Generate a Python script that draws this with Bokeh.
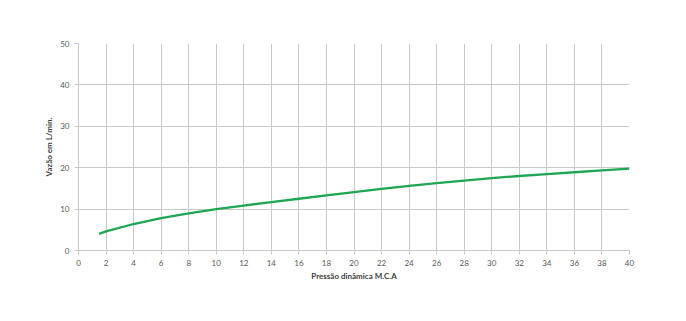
from bokeh.plotting import figure
from bokeh.models import Range1d, FixedTicker
from bokeh.embed import file_html
from bokeh.resources import INLINE

pressure = [1.5, 2, 4, 6, 8, 10, 12, 14, 16, 18, 20, 22, 24, 26, 28, 30, 32, 34, 36, 38, 40]
flow = [4.0, 4.6, 6.4, 7.8, 8.95, 10.0, 10.85, 11.7, 12.5, 13.3, 14.1, 14.9, 15.6, 16.25, 16.9, 17.5, 18.0, 18.45, 18.9, 19.35, 19.8]
x_ticks = list(range(0, 41, 2))
y_ticks = list(range(0, 51, 10))

FONT = "Lato"
GRID = "#c9c9c9"
TXT = "#595959"

p = figure(width=686, height=321, output_backend="svg", toolbar_location=None,
           x_range=Range1d(0, 40), y_range=Range1d(0, 50),
           min_border_left=78, min_border_right=57, min_border_top=43, min_border_bottom=71)
p.outline_line_color = None
p.background_fill_color = "white"
p.border_fill_color = "white"

p.line(pressure, flow, line_color="#1fa654", line_width=2.3)

p.xaxis.ticker = FixedTicker(ticks=x_ticks)
p.yaxis.ticker = FixedTicker(ticks=y_ticks)
p.xgrid.ticker = FixedTicker(ticks=x_ticks)
p.ygrid.ticker = FixedTicker(ticks=y_ticks)
p.grid.grid_line_color = GRID
p.grid.grid_line_width = 1

for ax in (p.xaxis, p.yaxis):
    ax.axis_line_color = GRID
    ax.major_tick_line_color = GRID
    ax.major_tick_out = 4
    ax.major_tick_in = 0
    ax.minor_tick_line_color = None
    ax.major_label_text_font = FONT
    ax.major_label_text_font_size = "8px"
    ax.major_label_text_color = TXT
    ax.axis_label_text_font = FONT
    ax.axis_label_text_font_size = "8px"
    ax.axis_label_text_font_style = "bold"
    ax.axis_label_text_color = "#404040"

p.xaxis.axis_label = "Pressão dinâmica M.C.A"
p.yaxis.axis_label = "Vazão em L/min."
p.xaxis.major_label_standoff = 5
p.yaxis.major_label_standoff = 5
p.xaxis.axis_label_standoff = 2
p.yaxis.axis_label_standoff = 3

open("out.html", "w").write(file_html(p, INLINE))
